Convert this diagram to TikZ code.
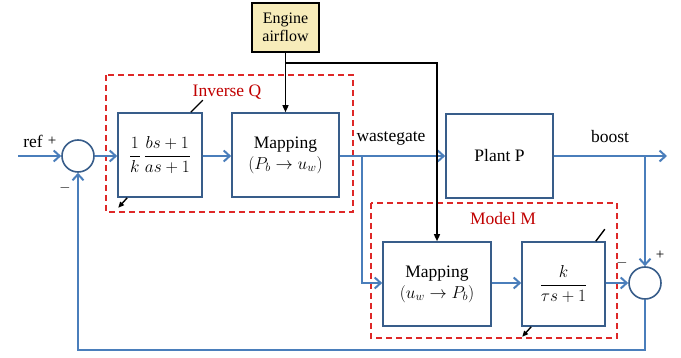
\documentclass[tikz,border=0pt]{standalone}
\usepackage{amsmath}
\usepackage{fontspec}
\setmainfont{Liberation Serif}
\usetikzlibrary{arrows.meta,positioning}
\definecolor{sigblue}{RGB}{74,126,187}
\definecolor{boxblue}{RGB}{56,93,138}
\definecolor{dashred}{RGB}{222,40,40}
\definecolor{labelred}{RGB}{192,0,0}
\definecolor{engfill}{RGB}{247,236,186}

\tikzset{
  blk/.style={draw=boxblue, line width=1.6pt, fill=white, minimum height=84pt,
    inner sep=0pt, align=center, font=\fontsize{17.5}{21}\selectfont},
  sumnode/.style={circle, draw=boxblue, line width=1.6pt, fill=white,
    minimum size=32pt, inner sep=0pt},
  sig/.style={draw=sigblue, line width=2pt,
    -{Straight Barb[length=6pt,width=11pt]}},
  ctl/.style={draw=black, line width=1.4pt, -{Triangle[length=7pt,width=6pt]}},
  tune/.style={draw=black, line width=1.4pt},
  dashbox/.style={draw=dashred, line width=1.3pt, dash pattern=on 6pt off 4pt},
  lbl/.style={font=\fontsize{17.5}{21}\selectfont, inner sep=0pt},
  sgn/.style={font=\fontsize{15}{18}\selectfont, inner sep=0pt}
}

\begin{document}
\begin{tikzpicture}[x=1pt, y=-1pt]
  \useasboundingbox (0,0) rectangle (681,358);

  % Dashed groups
  \draw[dashbox] (106,75) rectangle (353,212);
  \draw[dashbox] (371,203) rectangle (617,338);
  \node[lbl, text=labelred] (invlbl) at (227,92) {Inverse Q};
  \node[lbl, text=labelred] (modlbl) at (503,219) {Model M};

  % Blocks
  \node[sumnode] (sumA) at (78,156) {};
  \node[blk, minimum width=84pt, font=\fontsize{19}{22}\selectfont] (invblk) at (160,155)
    {$\dfrac{1}{k}\,\dfrac{bs+1}{as+1}$};
  \node[blk, minimum width=107pt] (mapA) at (285.5,155)
    {Mapping\\$(P_b \rightarrow u_w)$};
  \node[blk, minimum width=107pt] (plant) at (499.5,156) {Plant P};
  \node[blk, minimum width=108pt] (mapB) at (437,284)
    {Mapping\\$(u_w \rightarrow P_b)$};
  \node[blk, minimum width=83pt, font=\fontsize{19}{22}\selectfont] (lagblk) at (563.5,284)
    {$\dfrac{k}{\tau s+1}$};
  \node[sumnode] (sumB) at (645,283) {};
  \node[draw=black, line width=1.6pt, fill=engfill, minimum width=67pt,
    minimum height=49pt, inner sep=0pt, align=center,
    font=\fontsize{16}{18}\selectfont] (engine) at (285.5,27.5) {Engine\\airflow};

  % Signal coordinates
  \coordinate (refin) at (18,156);
  \coordinate (tapA) at (362,156);
  \coordinate (tapB) at (645,156);
  \coordinate (boostout) at (667,156);
  \coordinate (fbbot) at (645,350);
  \coordinate (engtap) at (285.5,63);

  % Main path
  \draw[sig] (refin) -- (sumA.west);
  \draw[sig] (sumA.east) -- (invblk.west |- sumA.east);
  \draw[sig] (invblk.east |- sumA.east) -- (mapA.west |- sumA.east);
  \draw[sig] (mapA.east |- sumA.east) -- (plant.west);
  \draw[sig] (plant.east) -- (boostout);

  % Model branch and feedback
  \draw[sig] (tapA) |- (mapB.west |- sumB.west);
  \draw[sig] (mapB.east |- sumB.west) -- (lagblk.west |- sumB.west);
  \draw[sig] (lagblk.east |- sumB.west) -- (sumB.west);
  \draw[sig] (tapB) -- (sumB.north);
  \draw[sig] (sumB.south) -- (fbbot) -| (sumA.south);

  % Engine airflow
  \draw[ctl] (engine.south) -- (mapA.north);
  \draw[ctl] (engtap) -| (mapB.north);

  % Tuning marks
  \draw[tune] ([xshift=-12pt]invblk.north east) -- ++(12,-12);
  \draw[tune, -{Triangle[length=6pt,width=5pt]}]
    ([xshift=10pt]invblk.south west) -- ++(-9,10);
  \draw[tune] ([xshift=-10pt]lagblk.north east) -- ++(9,-12);
  \draw[tune, -{Triangle[length=6pt,width=5pt]}]
    ([xshift=10pt]lagblk.south west) -- ++(-9,10);

  % Labels
  \node[lbl] (reflbl) at (33,141) {ref};
  \node[sgn] (plusA) at (52,141) {+};
  \node[sgn] (minusA) at (65,188) {$-$};
  \node[lbl] (wglbl) at (391,138) {wastegate};
  \node[lbl] (boostlbl) at (610,137) {boost};
  \node[sgn] (plusB) at (660,255) {+};
  \node[sgn] (minusB) at (622,263) {$-$};
\end{tikzpicture}
\end{document}
